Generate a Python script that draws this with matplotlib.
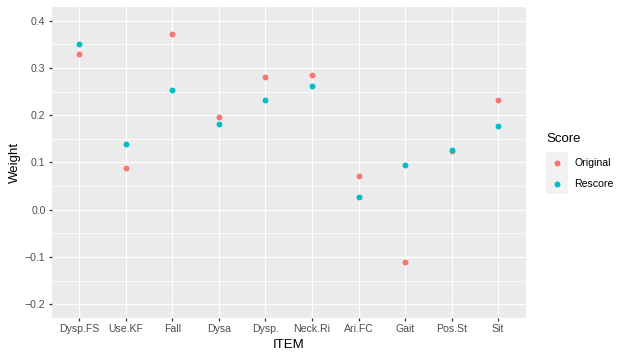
import matplotlib
matplotlib.use('Agg')
import matplotlib.pyplot as plt
from matplotlib.patches import Rectangle
from matplotlib.lines import Line2D
import numpy as np

# ---------------------------------------------------------------------------
# Data
# ---------------------------------------------------------------------------
items = ["Dysp.FS", "Use.KF", "Fall", "Dysa", "Dysp.", "Neck.Ri",
         "Ari.FC", "Gait", "Pos.St", "Sit"]
original = [0.330, 0.089, 0.373, 0.196, 0.282, 0.285, 0.071, -0.110, 0.125, 0.233]
rescore = [0.351, 0.139, 0.253, 0.181, 0.232, 0.261, 0.027, 0.094, 0.126, 0.178]
series_names = ["Original", "Rescore"]
series_colors = ["#F8766D", "#00BFC4"]
y_ticks = [-0.2, -0.1, 0.0, 0.1, 0.2, 0.3, 0.4]

plt.rcParams['font.family'] = ['Liberation Sans', 'DejaVu Sans']

W, H = 630, 360
DPI = 100
PX = 72 / DPI  # points per pixel
K = 1.2        # ggplot device scale


def fx(x):
    return x / W


def fy(y):
    return 1 - y / H


fig = plt.figure(figsize=(W / DPI, H / DPI), dpi=DPI)
left, right, top, bottom = 51.5, 526.0, 6.7, 318.3
ax = fig.add_axes([fx(left), fy(bottom), fx(right - left), (bottom - top) / H])
ax.set_facecolor("#EBEBEB")

xpos = np.arange(len(items))
for vals, name, col in zip([original, rescore], series_names, series_colors):
    ax.scatter(xpos, vals, s=18, color=col, linewidths=0, zorder=3, label=name)

ax.set_xlim(-0.6, len(items) - 1 + 0.6)
ax.set_xticks(xpos)
ax.set_xticklabels(items)
ax.set_yticks(y_ticks)
ax.set_yticklabels([f"{v:.1f}".replace("-", "\u2212") for v in y_ticks])
ax.set_yticks([v + 0.05 for v in y_ticks[:-1]], minor=True)
ax.set_ylim(-0.23, 0.43)

ax.grid(True, which='major', color='white', linewidth=1.07 * PX * K)
ax.grid(True, which='minor', axis='y', color='white', linewidth=0.55 * PX * K)
ax.set_axisbelow(True)
for s in ax.spines.values():
    s.set_visible(False)

ax.tick_params(axis='both', which='major', length=2.75 * PX * K, width=1.07 * PX * K,
               color='#333333', labelcolor='#4D4D4D', labelsize=8.8 * PX * K,
               pad=2.2 * PX * K)
ax.tick_params(axis='both', which='minor', length=0)

ax.set_xlabel("ITEM", fontsize=11 * PX * K, labelpad=3.5)
ax.set_ylabel("Weight", fontsize=11 * PX * K, labelpad=3.0)

# legend drawn by hand to follow ggplot layout
fig.text(fx(546), fy(139), "Score", fontsize=11 * PX * K, ha='left', va='center')
fig.patches.append(Rectangle((fx(546), fy(194.3)), fx(21.5), (194.3 - 151.7) / H,
                             transform=fig.transFigure, facecolor='#F2F2F2',
                             edgecolor='none'))
for i, (name, col) in enumerate(zip(series_names, series_colors)):
    yk = 163 + i * 21.3
    fig.lines.append(Line2D([fx(556.7)], [fy(yk)], marker='o', markersize=4.3,
                            color=col, markeredgewidth=0, linestyle='none',
                            transform=fig.transFigure))
    fig.text(fx(574.5), fy(yk), name, fontsize=8.8 * PX * K, ha='left', va='center')

fig.savefig("out.png", dpi=DPI)
